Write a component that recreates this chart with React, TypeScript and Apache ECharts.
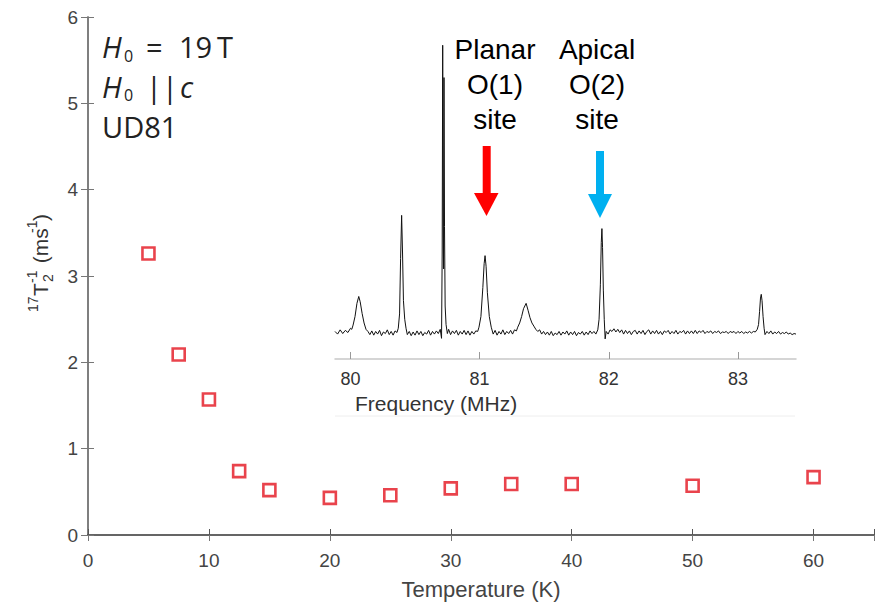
import React, { useEffect, useRef } from "react";
import * as echarts from "echarts";

// Main panel data: temperature (K) vs 17T2^-1 (ms^-1)
const temperatures = [5, 7.5, 10, 12.5, 15, 20, 25, 30, 35, 40, 50, 60];
const rates = [3.26, 2.09, 1.57, 0.74, 0.52, 0.43, 0.46, 0.54, 0.59, 0.59, 0.57, 0.67];

// Inset spectrum: frequency (MHz), intensity (arb. units)
const specFreq = [
  79.88, 79.9, 79.92, 79.94, 79.96, 79.98, 80.0, 80.01,
  80.02, 80.035, 80.05, 80.064, 80.075, 80.09, 80.105, 80.12,
  80.135, 80.15, 80.165, 80.18, 80.195, 80.21, 80.225, 80.24, 80.255, 80.27, 80.285, 80.3, 80.315, 80.33, 80.345, 80.36, 80.37,
  80.38, 80.388, 80.396, 80.403, 80.41, 80.42, 80.43,
  80.44, 80.455, 80.47, 80.485, 80.5, 80.515, 80.53, 80.545, 80.56, 80.575, 80.59, 80.605, 80.62, 80.635, 80.65, 80.665, 80.68, 80.695, 80.705,
  80.71, 80.714, 80.718, 80.721, 80.724, 80.728, 80.733, 80.74, 80.75, 80.76, 80.775, 80.79, 80.805, 80.82, 80.835, 80.85, 80.865, 80.88, 80.895, 80.91, 80.925, 80.94, 80.955, 80.97, 80.985,
  80.995, 81.01, 81.025, 81.035, 81.042, 81.05, 81.06, 81.075, 81.09,
  81.105, 81.12, 81.135, 81.15, 81.165, 81.18, 81.195, 81.21, 81.225, 81.24, 81.255, 81.27, 81.285,
  81.295, 81.31, 81.325, 81.34, 81.36, 81.375, 81.39, 81.405, 81.42, 81.435, 81.45, 81.465, 81.48, 81.495, 81.51, 81.525, 81.54, 81.555, 81.57, 81.585, 81.6, 81.615, 81.63, 81.645, 81.66, 81.675, 81.69, 81.705, 81.72, 81.735, 81.75, 81.765, 81.78, 81.795, 81.81, 81.825, 81.84, 81.855, 81.87, 81.885, 81.9, 81.915, 81.925,
  81.935, 81.942, 81.947, 81.952, 81.958, 81.965, 81.972, 81.98, 81.995, 82.01, 82.025, 82.04, 82.055, 82.07, 82.085, 82.1, 82.115, 82.13, 82.145, 82.16, 82.175, 82.19, 82.205, 82.22, 82.235, 82.25, 82.265, 82.28, 82.295, 82.31, 82.325, 82.34, 82.355, 82.37, 82.385, 82.4, 82.415, 82.43, 82.445, 82.46, 82.475, 82.49, 82.505, 82.52, 82.535, 82.55, 82.565, 82.58, 82.595, 82.61, 82.625, 82.64, 82.655, 82.67, 82.685, 82.7, 82.715, 82.73, 82.745, 82.76, 82.775, 82.79, 82.805, 82.82, 82.835, 82.85, 82.865, 82.88, 82.895, 82.91, 82.925, 82.94, 82.955, 82.97, 82.985, 83.0, 83.015, 83.03, 83.045, 83.06, 83.075, 83.09, 83.105, 83.12, 83.135, 83.15, 83.16,
  83.168, 83.175, 83.181, 83.187, 83.195, 83.203, 83.21, 83.225, 83.24, 83.255, 83.27, 83.285, 83.3, 83.315, 83.33, 83.345, 83.36, 83.375, 83.39, 83.405, 83.42, 83.435, 83.45,
];
const specIntensity = [
  0.02, -0.03, 0.05, -0.02, 0.04, 0.0, 0.08, 0.06,
  0.14, 0.3, 0.55, 0.68, 0.58, 0.36, 0.18, 0.06,
  0.02, -0.04, 0.03, -0.05, 0.02, -0.03, 0.04, -0.06, 0.01, -0.02, 0.05, -0.04, 0.02, -0.05, 0.03, 0.0, 0.08,
  0.35, 1.4, 2.21, 1.5, 0.6, 0.25, 0.08,
  -0.04, 0.02, -0.06, 0.01, -0.05, 0.03, -0.04, 0.02, -0.06, 0.0, -0.03, 0.04, -0.05, 0.02, -0.03, 0.03, -0.02, 0.06, -0.11,
  1.5, 5.42, 2.0, 1.2, 4.81, 2.0, 0.5, 0.15, -0.02, 0.06, -0.04, 0.03, -0.02, 0.04, -0.05, 0.02, -0.03, 0.04, -0.04, 0.03, -0.05, 0.02, -0.03, 0.03, 0.02,
  0.1, 0.3, 0.85, 1.3, 1.45, 1.25, 0.75, 0.3, 0.1,
  -0.03, 0.04, -0.05, 0.02, -0.03, 0.05, -0.04, 0.02, -0.02, 0.04, -0.03, 0.05, 0.03,
  0.1, 0.18, 0.3, 0.45, 0.55, 0.42, 0.28, 0.18, 0.12, 0.06, 0.02, 0.05, -0.03, 0.02, -0.04, 0.01, -0.05, 0.02, -0.06, -0.01, -0.04, 0.02, -0.05, 0.01, -0.03, 0.03, -0.05, 0.01, -0.04, 0.02, -0.06, 0.0, -0.03, 0.02, -0.05, 0.01, -0.04, 0.03, -0.02, 0.02, -0.03, 0.05, 0.25,
  0.9, 1.7, 1.96, 1.6, 0.8, 0.25, -0.12, 0.02, -0.03, 0.05, 0.02, 0.07, 0.01, 0.06, 0.0, 0.05, -0.03, 0.04, -0.02, 0.03, -0.04, 0.02, 0.04, -0.03, 0.03, -0.02, 0.04, -0.04, 0.02, 0.05, -0.03, 0.03, -0.02, 0.04, -0.03, 0.02, -0.04, 0.03, 0.0, 0.04, -0.03, 0.02, -0.02, 0.04, -0.03, 0.02, 0.0, 0.04, -0.03, 0.03, -0.02, 0.03, -0.02, 0.04, -0.02, 0.03, 0.0, 0.04, -0.02, 0.02, 0.0, 0.03, -0.02, 0.02, 0.0, 0.03, -0.02, 0.01, 0.0, 0.02, -0.02, 0.02, 0.0, 0.02, -0.02, 0.02, -0.01, 0.02, -0.02, 0.01, -0.01, 0.02, -0.01, 0.02, 0.01, 0.06, 0.15,
  0.4, 0.65, 0.72, 0.6, 0.3, 0.08, -0.04, 0.02, -0.02, 0.03, -0.03, 0.01, -0.02, 0.02, -0.03, 0.0, -0.02, 0.01, -0.03, -0.01, -0.04, -0.02, -0.03,
];
const mainXTicks = [0, 10, 20, 30, 40, 50, 60];
const insetXTicks = [80, 81, 82, 83];

const SANS = "'Liberation Sans', Arial, sans-serif";
const LEGEND_FONT = "'Open Sans', 'DejaVu Sans', sans-serif";

export default function App() {
  const ref = useRef<HTMLDivElement>(null);

  useEffect(() => {
    if (!ref.current) return;
    const chart = echarts.init(ref.current, undefined, { renderer: "svg" });

    const scatterData = temperatures.map((t, i) => [t, rates[i]]);
    const specData = specFreq.map((f, i) => [f, specIntensity[i]]);

    const t = (text: string, x: number, y: number, fontSize: number, extra: any = {}) => ({
      type: "text",
      x,
      y,
      style: {
        text,
        fontSize,
        fontFamily: LEGEND_FONT,
        fill: "#222",
        verticalAlign: "middle",
        align: "left",
        ...extra,
      },
    });

    const yNameParts = [
      { text: "17", x: -49, y: -7, fs: 14 },
      { text: "T", x: -33, y: 0, fs: 21 },
      { text: "-1", x: -20, y: -8, fs: 14 },
      { text: "2", x: -19, y: 8, fs: 14 },
      { text: " (ms", x: -6, y: 0, fs: 21 },
      { text: "-1", x: 30, y: -8, fs: 14 },
      { text: ")", x: 42, y: 0, fs: 21 },
    ];

    const option: any = {
      animation: false,
      backgroundColor: "#fff",
      grid: [
        { left: 88, right: 1, top: 17, bottom: 68, containLabel: false },
        { left: 335, right: 79, top: 35.7, bottom: 246, containLabel: false },
      ],
      xAxis: [
        {
          gridIndex: 0,
          type: "value",
          min: 0,
          max: 65,
          interval: 10,
          position: "bottom",
          name: "Temperature (K)",
          nameLocation: "middle",
          nameGap: 43,
          nameTextStyle: { fontSize: 22, color: "#444", fontFamily: SANS },
          axisLine: { show: true, lineStyle: { color: "#333", width: 2 } },
          axisTick: { show: true, inside: true, length: 6, lineStyle: { color: "#555" } },
          axisLabel: {
            color: "#444",
            fontSize: 19,
            fontFamily: SANS,
            margin: 16,
            customValues: mainXTicks,
          },
          splitLine: { show: false },
        },
        {
          gridIndex: 0,
          type: "value",
          min: 0,
          max: 65,
          interval: 10,
          position: "top",
          axisLine: { show: true, lineStyle: { color: "#777", width: 1.5 } },
          axisTick: { show: true, inside: true, length: 6, lineStyle: { color: "#777" } },
          axisLabel: { show: false },
          splitLine: { show: false },
        },
        {
          gridIndex: 1,
          type: "value",
          min: 79.88,
          max: 83.45,
          position: "bottom",
          axisLine: { show: true, onZero: false, lineStyle: { color: "#c8c8c8", width: 1.5 } },
          axisTick: {
            show: true,
            inside: true,
            length: 7,
            lineStyle: { color: "#999" },
            customValues: insetXTicks,
          },
          axisLabel: {
            color: "#333",
            fontSize: 18,
            fontFamily: SANS,
            margin: 11,
            customValues: insetXTicks,
          },
          splitLine: { show: false },
        },
      ],
      yAxis: [
        {
          gridIndex: 0,
          type: "value",
          min: 0,
          max: 6,
          interval: 1,
          position: "left",
          axisLine: { show: true, lineStyle: { color: "#777", width: 1.5 } },
          axisTick: { show: true, inside: true, length: 6, lineStyle: { color: "#777" } },
          axisLabel: { color: "#444", fontSize: 19, fontFamily: SANS, margin: 10 },
          splitLine: { show: false },
        },
        {
          gridIndex: 0,
          type: "value",
          min: 0,
          max: 6,
          interval: 1,
          position: "right",
          axisLine: { show: true, lineStyle: { color: "#777", width: 1.5 } },
          axisTick: { show: true, inside: true, length: 7, lineStyle: { color: "#777" } },
          axisLabel: { show: false },
          splitLine: { show: false },
        },
        {
          gridIndex: 1,
          type: "value",
          min: -0.5,
          max: 5.6,
          show: false,
        },
      ],
      series: [
        {
          type: "scatter",
          xAxisIndex: 0,
          yAxisIndex: 0,
          data: scatterData,
          symbol: "rect",
          symbolSize: 12,
          itemStyle: { color: "rgba(0,0,0,0)", borderColor: "#e3141f", borderWidth: 2.6 },
          z: 5,
        },
        {
          type: "line",
          xAxisIndex: 2,
          yAxisIndex: 2,
          data: specData,
          showSymbol: false,
          symbol: "none",
          lineStyle: { color: "#111", width: 1 },
          z: 4,
        },
      ],
      graphic: [
        // top-left annotation
        t("H", 102, 46, 29, { fontStyle: "italic" }),
        t("0", 124, 56, 16),
        t("=", 146, 46, 29),
        t("19", 179, 46, 29),
        t("T", 217, 46, 29),
        t("H", 102, 86, 29, { fontStyle: "italic" }),
        t("0", 124, 95, 16),
        t("||", 146, 86, 29),
        t("c", 180, 86, 29, { fontStyle: "italic" }),
        t("UD81", 102, 126, 29),
        // inset frequency label
        {
          type: "text",
          x: 355,
          y: 403,
          style: {
            text: "Frequency (MHz)",
            fontSize: 21,
            fontFamily: SANS,
            fill: "#333",
            verticalAlign: "middle",
            align: "left",
          },
        },
        // inset bottom faint border
        {
          type: "line",
          shape: { x1: 335, y1: 416, x2: 795, y2: 416 },
          style: { stroke: "#eeeeee", lineWidth: 1 },
        },
        // site labels
        ...["Planar", "O(1)", "site"].map((s, i) => ({
          type: "text",
          x: 495,
          y: 49 + i * 35,
          style: { text: s, fontSize: 28, fontFamily: SANS, fill: "#000", align: "center", verticalAlign: "middle" },
        })),
        ...["Apical", "O(2)", "site"].map((s, i) => ({
          type: "text",
          x: 597,
          y: 49 + i * 35,
          style: { text: s, fontSize: 28, fontFamily: SANS, fill: "#000", align: "center", verticalAlign: "middle" },
        })),
        // red arrow
        { type: "rect", shape: { x: 482.7, y: 146, width: 8, height: 48 }, style: { fill: "#ff0000" } },
        {
          type: "polygon",
          shape: { points: [[474, 193], [498.5, 193], [486.5, 216]] },
          style: { fill: "#ff0000" },
        },
        // blue arrow
        { type: "rect", shape: { x: 596, y: 151, width: 8, height: 44 }, style: { fill: "#00b0f0" } },
        {
          type: "polygon",
          shape: { points: [[588, 194], [612, 194], [600, 218]] },
          style: { fill: "#00b0f0" },
        },
        // y axis name (rotated)
        {
          type: "group",
          x: 40,
          y: 263,
          rotation: Math.PI / 2,
          children: yNameParts.map((p) => ({
            type: "text",
            x: p.x,
            y: p.y,
            style: {
              text: p.text,
              fontSize: p.fs,
              fontFamily: SANS,
              fill: "#333",
              align: "left",
              verticalAlign: "middle",
            },
          })),
        },
      ],
    };

    chart.setOption(option);
    return () => chart.dispose();
  }, []);

  return (
    <div
      ref={ref}
      style={{ position: "absolute", left: 0, top: 0, width: 875, height: 605 }}
    />
  );
}
